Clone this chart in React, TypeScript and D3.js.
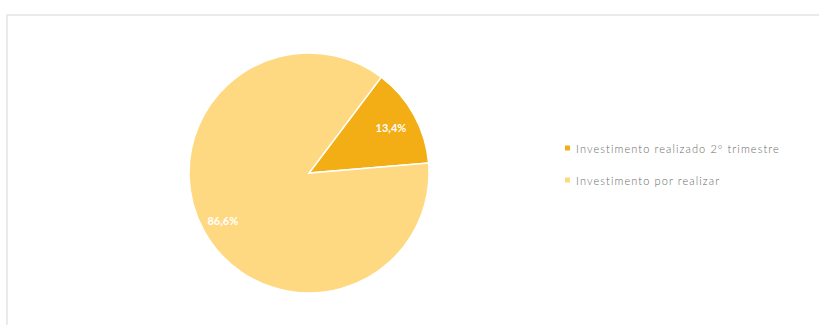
import React from "react";
import * as d3 from "d3";

const categories = ["Investimento realizado 2º trimestre", "Investimento por realizar"];
const values = [13.4, 86.6];
const labels = ["13,4%", "86,6%"];
const colors = ["#F3AD15", "#FED981"];

export default function App() {
  const W = 819, H = 325;
  const cx = 309, cy = 173, r = 120;
  const start = (37 * Math.PI) / 180;
  const pie = d3.pie<number>().sort(null).startAngle(start).endAngle(start + 2 * Math.PI);
  const arcs = pie(values);
  const arc = d3.arc<d3.PieArcDatum<number>>().innerRadius(0).outerRadius(r);
  const labelArc = d3.arc<d3.PieArcDatum<number>>().innerRadius(r * 0.78).outerRadius(r * 0.78);
  const labelArc2 = d3.arc<d3.PieArcDatum<number>>().innerRadius(r * 0.82).outerRadius(r * 0.82);
  const ly = d3.scaleBand<string>().domain(categories).range([132, 196]);
  return (
    <svg width={W} height={H} style={{ position: "absolute", left: 0, top: 0, background: "#fff" }}
      fontFamily="Lato, 'Open Sans', sans-serif">
      <rect x={7} y={15} width={W} height={H} fill="none" stroke="#e3e3e3" strokeWidth={1.5} />
      <g transform={`translate(${cx},${cy})`}>
        {arcs.map((a, i) => (
          <path key={i} d={arc(a) || ""} fill={colors[i]} stroke="#fff" strokeWidth={1.5} />
        ))}
        {arcs.map((a, i) => {
          const [x, y] = (i === 0 ? labelArc : labelArc2).centroid(a);
          return (
            <text key={i} x={x} y={y} textAnchor="middle" dominantBaseline="central"
              fill="#fff" fontWeight="bold" fontSize={11}>{labels[i]}</text>
          );
        })}
      </g>
      {categories.map((c, i) => {
        const y = (ly(c) || 0) + ly.bandwidth() / 2;
        return (
          <g key={c}>
            <rect x={565} y={y - 2.5} width={5} height={5} fill={colors[i]} />
            <text x={576} y={y} dominantBaseline="central" fontSize={11} letterSpacing={1.1}
              fontWeight={300} fill="#6a6a6a">{c}</text>
          </g>
        );
      })}
    </svg>
  );
}
